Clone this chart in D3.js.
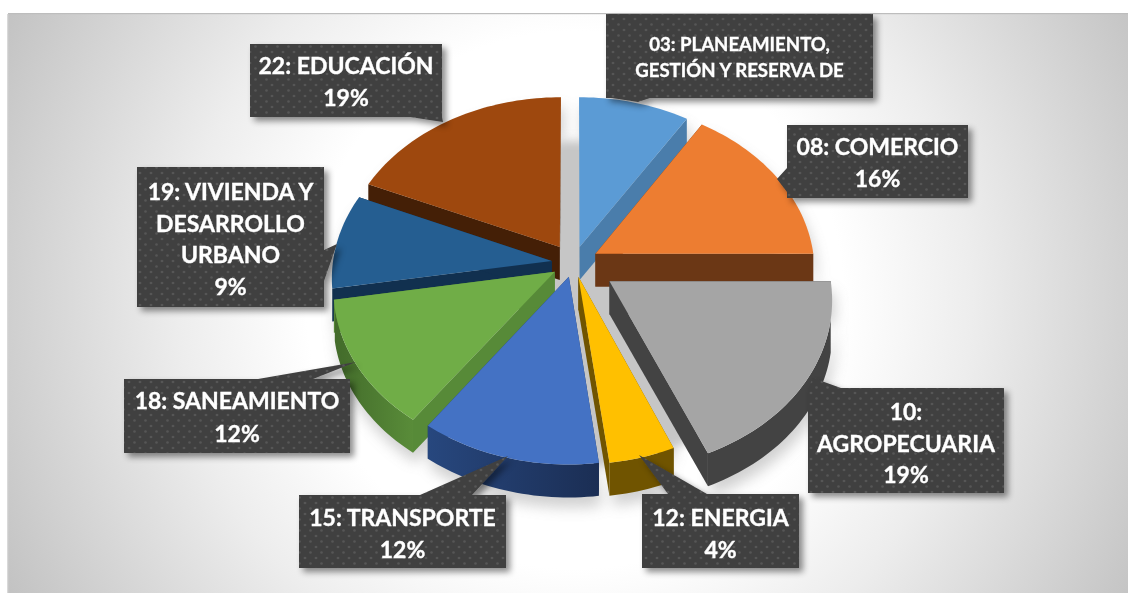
<!DOCTYPE html>
<html>
<head>
<meta charset="utf-8">
<script src="https://cdn.jsdelivr.net/npm/d3@7"></script>
<style>
html,body{margin:0;padding:0;background:#fff;overflow:hidden}
svg{display:block}
text{font-family:Lato,"Open Sans",sans-serif;font-weight:700;fill:#fff;text-anchor:middle;stroke:#fff;stroke-width:.35px}
</style>
</head>
<body>
<svg id="chart" width="1128" height="593"></svg>
<script>
// ---- data ----
const categories = ["03","08","10","12","15","18","19","22"];
const values = [9,16,18.6,4.4,12,12.4,9.1,18.5];
const labelLines = [
  ["03: PLANEAMIENTO,","GESTIÓN Y RESERVA DE"],
  ["08: COMERCIO","16%"],
  ["10:","AGROPECUARIA","19%"],
  ["12: ENERGIA","4%"],
  ["15: TRANSPORTE","12%"],
  ["18: SANEAMIENTO","12%"],
  ["19: VIVIENDA Y","DESARROLLO","URBANO","9%"],
  ["22: EDUCACIÓN","19%"]
];
const explode = [0.10,0.115,0.195,0.085,0.085,0.10,0.10,0.115];

// ---- styles ----
const topColors  = ["#5B9BD5","#ED7D31","#A5A5A5","#FFC000","#4472C4","#70AD47","#255E91","#9E480E"];
const wallColors = ["#4A7DAB","#6B3715","#434343","#705400","#1F3864","#578A38","#11304F","#441F06"];
const rimStart   = ["#4A7DAB","#6B3715","#434343","#705400","#1B2E54","#598C39","#11304F","#441F06"];
const rimEnd     = ["#4A7DAB","#6B3715","#434343","#705400","#27477E","#426A2A","#11304F","#441F06"];

// ---- label layout: box [x0,y0,x1,y1], pointer [base1, tip, base2], font size ----
const boxes = [[606,14,873,98],[787,125,968,198],[808,388,1004,493],[642,494,799,568],
               [299,495,506,568],[124,379,350,453],[137,167,324,307],[250,44,442,117]];
const tails = [[[612,98],[638,102],[650,98]],[[787,168],[777,179],[787,192]],[[808,388],[813,378],[841,388]],
               [[668,494],[639,455],[707,494]],[[420,495],[508,456],[472,495]],[[258,379],[356,362],[313,379]],
               [[324,250],[337,244],[324,281]],[[410,117],[443,122],[442,117]]];
const fontSizes = [18.6,23,23,23,23,23,23,23];
const lineStep = [26,32,31.5,32,32,32.5,31.7,32];
const firstBase = [51,155,420,526,526,409,200,74];

const W = 1128, H = 593, depth = 33;
const svg = d3.select("#chart");
const defs = svg.append("defs");

// background
const bg = defs.append("radialGradient").attr("id","bg").attr("gradientUnits","userSpaceOnUse")
  .attr("cx",575).attr("cy",300).attr("r",640);
[[0,"#ffffff"],[0.42,"#ffffff"],[0.62,"#ededed"],[1,"#c2c2c2"]].forEach(d=>bg.append("stop").attr("offset",d[0]).attr("stop-color",d[1]));
svg.append("rect").attr("x",8).attr("y",14).attr("width",W-8).attr("height",H-14).attr("fill","url(#bg)");
svg.append("rect").attr("x",8).attr("y",13).attr("width",W-8).attr("height",1.2).attr("fill","#bdbdbd");
svg.append("rect").attr("x",7).attr("y",14).attr("width",1.2).attr("height",H-14).attr("fill","#d9d9d9");

// filters + pattern
const blur = defs.append("filter").attr("id","groundBlur").attr("x","-20%").attr("y","-20%").attr("width","140%").attr("height","140%");
blur.append("feGaussianBlur").attr("stdDeviation",7);
const blur2 = defs.append("filter").attr("id","coreBlur").attr("x","-20%").attr("y","-20%").attr("width","140%").attr("height","140%");
blur2.append("feGaussianBlur").attr("stdDeviation",5);
const sh = defs.append("filter").attr("id","boxShadow").attr("x","-10%").attr("y","-10%").attr("width","125%").attr("height","130%");
sh.append("feDropShadow").attr("dx",4).attr("dy",4).attr("stdDeviation",3).attr("flood-color","#000").attr("flood-opacity",0.45);
const pat = defs.append("pattern").attr("id","dots").attr("patternUnits","userSpaceOnUse").attr("width",11).attr("height",11);
pat.append("rect").attr("width",11).attr("height",11).attr("fill","#404040");
[[2.5,2.5],[8,8]].forEach(d=>pat.append("circle").attr("cx",d[0]).attr("cy",d[1]).attr("r",1.3).attr("fill","#565656"));

// pie layout and ground-plane projection
const arcs = d3.pie().sort(null).value(d=>d)(values);
const sx = d3.scaleLinear().domain([-1,1]).range([573.5-219,573.5+219]);
const sy = d3.scaleLinear().domain([-1,1]).range([263-167,263+167]);
const persp = 0.095;
function project(X,Y){
  const s = 1/(1-persp*Y);
  return [ sx(0)+(sx(X)-sx(0))*s, sy(0)+(sy(Y)-sy(0))*s ];
}
const line = d3.line();
function slice(d,i){
  const mid=(d.startAngle+d.endAngle)/2, e=explode[i];
  const ax=e*Math.sin(mid), ay=-e*Math.cos(mid);
  const n=Math.max(8,Math.ceil((d.endAngle-d.startAngle)*40));
  const angles=d3.range(n+1).map(k=>d.startAngle+(d.endAngle-d.startAngle)*k/n);
  const at=t=>project(ax+Math.sin(t),ay-Math.cos(t));
  // the outer wall shows only where the rim faces the viewer
  const front=angles.filter(t=>-Math.cos(t)>0.2).map(at);
  return {apex:project(ax,ay),rim:angles.map(at),front,mid,ay};
}
const down = p=>[p[0],p[1]+depth];
const geo = arcs.map((d,i)=>Object.assign(slice(d,i),{i}));

// soft ground shadow behind all the slices
svg.append("g").attr("filter","url(#groundBlur)").attr("opacity",0.4)
  .selectAll("path").data(geo).join("path")
  .attr("fill","#8a8a8a")
  .attr("d",g=>line([g.apex,...g.rim,...g.rim.map(down).reverse(),down(g.apex)])+"Z")
  .attr("transform","translate(3,10)");
// grey body of the shadow that shows in the gaps between slices
const disc = d3.range(0,2*Math.PI+0.01,0.05).map(t=>project(0.97*Math.sin(t),0.97*-Math.cos(t)));
svg.append("path").attr("filter","url(#coreBlur)").attr("fill","#c6c6c6")
  .attr("d",line(disc.map(p=>[p[0],p[1]+26]))+"Z");

// rim gradients
geo.forEach(g=>{
  const lg=defs.append("linearGradient").attr("id","rim"+g.i).attr("gradientUnits","userSpaceOnUse")
    .attr("x1",g.rim[g.rim.length-1][0]).attr("y1",0).attr("x2",g.rim[0][0]).attr("y2",0);
  lg.append("stop").attr("offset",0).attr("stop-color",rimEnd[g.i]);
  lg.append("stop").attr("offset",1).attr("stop-color",rimStart[g.i]);
});

// slices, painted back to front
const order = geo.slice().sort((a,b)=>a.ay-b.ay);
const pie = svg.append("g");
const sl = pie.selectAll("g").data(order).join("g");
sl.append("path").attr("fill",g=>wallColors[g.i])
  .attr("d",g=>{const r=g.rim[0];return line([g.apex,r,down(r),down(g.apex)])+"Z";});
sl.append("path").attr("fill",g=>wallColors[g.i])
  .attr("d",g=>{const r=g.rim[g.rim.length-1];return line([g.apex,r,down(r),down(g.apex)])+"Z";});
sl.filter(g=>g.front.length>1).append("path").attr("fill",g=>`url(#rim${g.i})`)
  .attr("d",g=>line([...g.front,...g.front.map(down).reverse()])+"Z");
sl.append("path").attr("fill",g=>topColors[g.i])
  .attr("d",g=>line([g.apex,...g.rim])+"Z");

// data labels
const lab = svg.append("g").selectAll("g").data(categories).join("g").attr("filter","url(#boxShadow)");
lab.append("path").attr("fill","url(#dots)")
  .attr("d",(c,i)=>{const b=boxes[i];const t=tails[i];
    return `M${b[0]},${b[1]}H${b[2]}V${b[3]}H${b[0]}Z`+line(t)+"Z";});
const txt = svg.append("g").selectAll("text").data(categories).join("text")
  .attr("font-size",(c,i)=>fontSizes[i])
  .attr("x",(c,i)=>(boxes[i][0]+boxes[i][2])/2);
txt.selectAll("tspan").data((c,i)=>labelLines[i].map((s,j)=>({s,j,i}))).join("tspan")
  .attr("x",d=>(boxes[d.i][0]+boxes[d.i][2])/2)
  .attr("y",d=>firstBase[d.i]+d.j*lineStep[d.i])
  .text(d=>d.s);
</script>
</body>
</html>
